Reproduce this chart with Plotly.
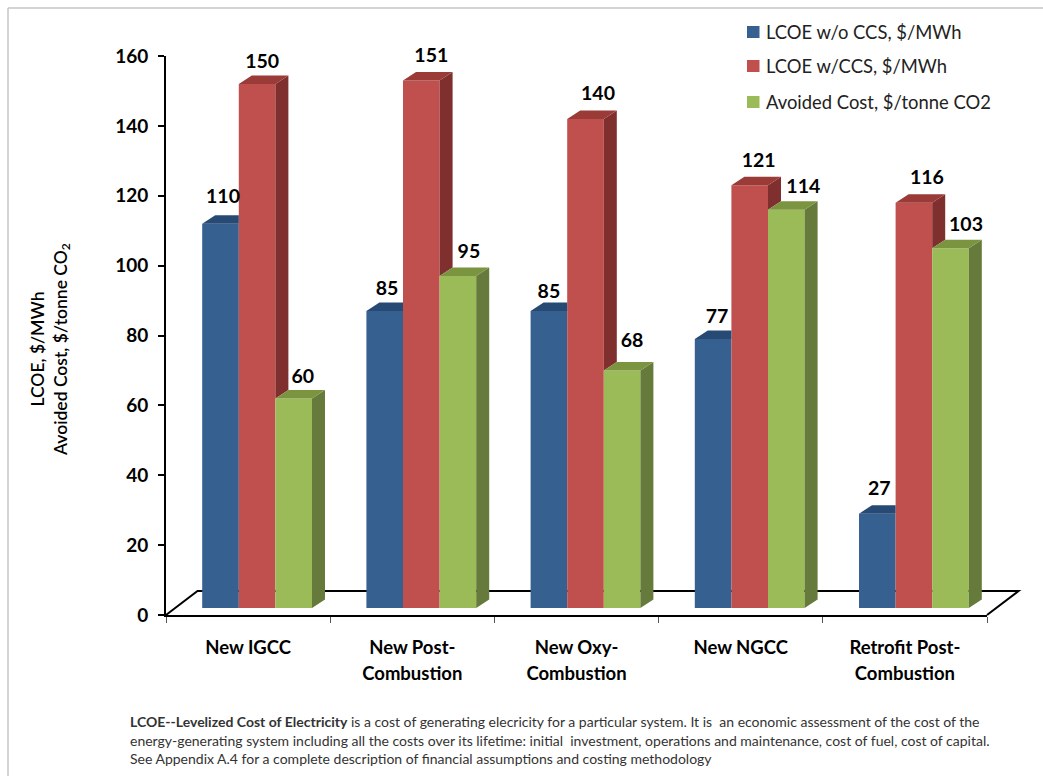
import plotly.graph_objects as go

# ---- data ----
CATEGORIES = ["New IGCC", "New Post-<br>Combustion", "New Oxy-<br>Combustion", "New NGCC", "Retrofit Post-<br>Combustion"]
LCOE_NO_CCS = [110, 85, 85, 77, 27]
LCOE_CCS = [150, 151, 140, 121, 116]
AVOIDED = [60, 95, 68, 114, 103]
Y_TICKS = [0, 20, 40, 60, 80, 100, 120, 140, 160]
SERIES_NAMES = ["LCOE w/o CCS, $/MWh", "LCOE w/CCS, $/MWh", "Avoided Cost, $/tonne CO2"]

# ---- styles ----
FONT = "Lato"
FRONT = ["#36608F", "#C0504D", "#9BBB59"]
TOP = ["#274A75", "#9A3B38", "#7A9440"]
SIDE = ["#274A75", "#7F302E", "#667B3B"]
LABEL_LIFT = [[26, 21, 18, 21, 24], [21, 23, 24, 23, 24], [20, 23, 28, 22, 22]]
LABEL_NUDGE = [[2.5, 2.3, 0, 4, 2], [5, 10, 12.5, 9, 13], [9, 11, 10, 17, 15.5]]

# ---- geometry (pixels of the page -> axis units) ----
W, H = 1043, 776
PL, PR, PT, PB = 166, 987, 56, 615
PX_X = (PR - PL) / 5
PX_Y = (PB - PT) / 160
BASE = 7 / PX_Y
DX = 13 / PX_X
DY = 8.5 / PX_Y
BAR_W = 36.6 / PX_X
GROUP_SHIFT = 9 / PX_X
FLOOR_DX = 31.5
FLOOR_DY = 24


def px(x):
    return (x - PL) / (PR - PL)


def py(y):
    return (PB - y) / (PB - PT)


series = [LCOE_NO_CCS, LCOE_CCS, AVOIDED]
n = len(CATEGORIES)
fig = go.Figure()


def left_edge(s, c):
    return c + 0.5 + GROUP_SHIFT + (s - 1.5) * BAR_W


# front faces
for s, vals in enumerate(series):
    fig.add_trace(go.Bar(
        x=[c + 0.5 for c in range(n)], y=vals, base=BASE, name=SERIES_NAMES[s],
        width=BAR_W, offset=[left_edge(s, c) - (c + 0.5) for c in range(n)],
        marker=dict(color=FRONT[s], line=dict(width=0)), showlegend=False))

# visible parts of the top and side faces
for s, vals in enumerate(series):
    tx, ty, sx, sy = [], [], [], []
    for c, v in enumerate(vals):
        x0 = left_edge(s, c)
        x1 = x0 + BAR_W
        v0 = v + BASE
        nxt = series[s + 1][c] + BASE if s < 2 else None
        if nxt is not None and nxt >= v0:
            # the neighbour hides the side and cuts the top off at its front
            tx += [x0, x1, x1, x0 + DX, x0, None]
            ty += [v0, v0, v0 + DY, v0 + DY, v0, None]
        else:
            tx += [x0, x1, x1 + DX, x0 + DX, x0, None]
            ty += [v0, v0, v0 + DY, v0 + DY, v0, None]
            low = nxt if nxt is not None else BASE
            sx += [x1, x1 + DX, x1 + DX, x1, x1, None]
            sy += [low, low + DY, v0 + DY, v0, low, None]
    if sx:
        fig.add_trace(go.Scatter(x=sx, y=sy, mode="lines", fill="toself", fillcolor=SIDE[s],
                                 line=dict(width=0, color=SIDE[s]), showlegend=False, hoverinfo="skip"))
    fig.add_trace(go.Scatter(x=tx, y=ty, mode="lines", fill="toself", fillcolor=TOP[s],
                             line=dict(width=0, color=TOP[s]), showlegend=False, hoverinfo="skip"))

# value labels
for s, vals in enumerate(series):
    fig.add_trace(go.Scatter(
        x=[left_edge(s, c) + (BAR_W * PX_X / 2 + LABEL_NUDGE[s][c]) / PX_X for c in range(n)],
        y=[v + BASE + LABEL_LIFT[s][c] / PX_Y for c, v in enumerate(vals)],
        text=[str(v) for v in vals], mode="text", textposition="middle center",
        textfont=dict(family=FONT, size=19.5, color="#000000", weight="bold"),
        cliponaxis=False, showlegend=False, hoverinfo="skip"))

# floor of the 3-D chart (behind the bars)
floor = [(PL, PB), (PL + FLOOR_DX, PB - FLOOR_DY), (PR + FLOOR_DX, PB - FLOOR_DY), (PR, PB)]
floor_path = "M " + " L ".join(f"{px(a):.5f} {py(b):.5f}" for a, b in floor)

shapes = [
    dict(type="path", xref="paper", yref="paper", path=floor_path, layer="below",
         line=dict(color="#000000", width=2)),
    dict(type="line", xref="paper", yref="paper", x0=px(8), x1=px(W), y0=py(8), y1=py(8),
         line=dict(color="#C6C6C6", width=1.5)),
    dict(type="line", xref="paper", yref="paper", x0=px(8), x1=px(8), y0=py(8), y1=py(H),
         line=dict(color="#C6C6C6", width=1.5)),
]
annotations = []

# legend
for i, (name, row) in enumerate(zip(SERIES_NAMES, [32, 66, 102])):
    shapes.append(dict(type="rect", xref="paper", yref="paper", x0=px(747), x1=px(759.5),
                       y0=py(row + 6), y1=py(row - 6), fillcolor=FRONT[i], line=dict(width=0)))
    annotations.append(dict(xref="paper", yref="paper", x=px(763.5), y=py(row), xanchor="left", yanchor="middle",
                            text=name, showarrow=False, font=dict(family=FONT, size=18.4, color="#222222")))

# footnote
FOOT = [
    "<b>LCOE--Levelized Cost of Electricity</b> is a cost of generating elecricity for a particular system. It is  an economic assessment of the cost of the",
    "energy-generating system including all the costs over its lifetime: initial  investment, operations and maintenance, cost of fuel, cost of capital.",
    "See Appendix A.4 for a complete description of financial assumptions and costing methodology",
]
for line, row in zip(FOOT, [721, 740, 758]):
    annotations.append(dict(xref="paper", yref="paper", x=px(127.5), y=py(row), xanchor="left", yanchor="middle",
                            text=line, showarrow=False, font=dict(family=FONT, size=14, color="#333333")))

# y-axis title
annotations.append(dict(xref="paper", yref="paper", x=px(50), y=py(350), xanchor="center", yanchor="middle",
                        textangle=-90, showarrow=False,
                        text="LCOE, $/MWh<br>Avoided Cost, $/tonne CO<sub>2</sub>",
                        font=dict(family=FONT, size=17.5, color="#000000", weight=600)))

fig.update_layout(
    width=W, height=H, autosize=False,
    margin=dict(l=PL, r=W - PR, t=PT, b=H - PB, pad=0),
    paper_bgcolor="#FFFFFF", plot_bgcolor="rgba(0,0,0,0)",
    barmode="overlay", showlegend=False,
    shapes=shapes, annotations=annotations,
    xaxis=dict(range=[0, 5], tickmode="array", tickvals=[c + 0.5 for c in range(n)],
               ticktext=["<span style='font-size:18.5px'>" + t.replace("<br>", "</span><br><span style='font-size:18.5px'>") + "</span>" for t in CATEGORIES],
               ticks="", ticklabelstandoff=13, showgrid=False, zeroline=False,
               showline=True, linecolor="#000000", linewidth=2,
               tickfont=dict(family=FONT, size=20, color="#000000", weight="bold"),
               minor=dict(tick0=0, dtick=1, ticks="outside", ticklen=6, tickcolor="#555555", tickwidth=1)),
    yaxis=dict(range=[0, 160], tickmode="array", tickvals=Y_TICKS, ticks="outside", ticklen=6,
               tickcolor="#000000", tickwidth=1.5, showgrid=False, zeroline=False,
               showline=True, linecolor="#000000", linewidth=2, ticklabelstandoff=6,
               tickfont=dict(family=FONT, size=19, color="#000000", weight="bold")),
)

fig.write_html("out.html", post_script="document.body.style.margin='0';", config={"displayModeBar": False})
